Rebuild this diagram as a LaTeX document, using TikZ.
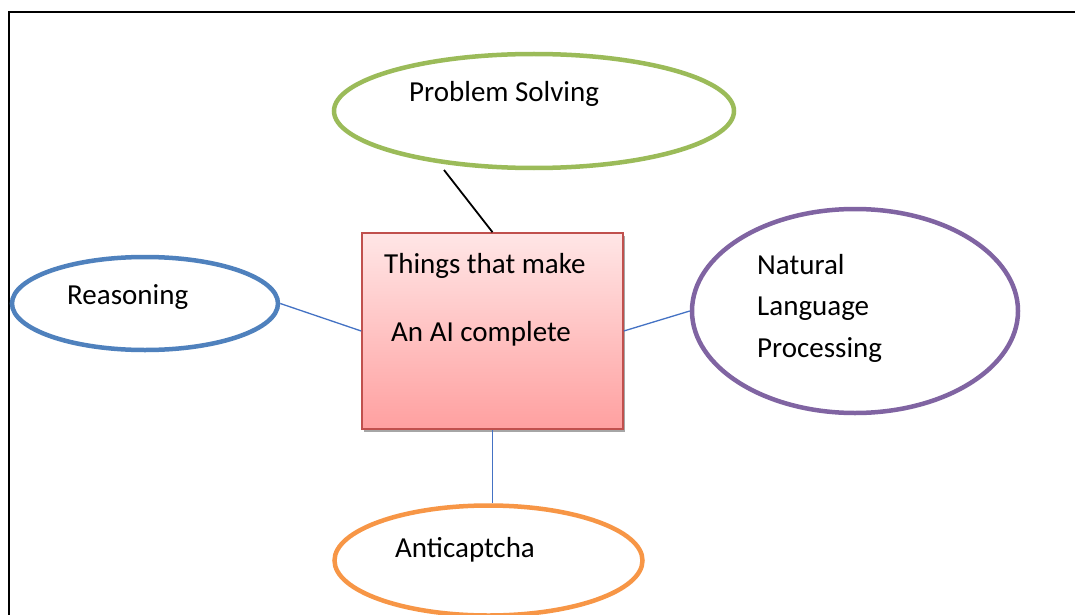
\documentclass[tikz,border=0pt]{standalone}
\usepackage{fontspec}
\setmainfont{Carlito}
\usetikzlibrary{shapes.geometric}
\definecolor{psgreen}{RGB}{155,187,89}
\definecolor{rsblue}{RGB}{79,129,189}
\definecolor{nlppurple}{RGB}{128,100,162}
\definecolor{acorange}{RGB}{247,150,70}
\definecolor{boxred}{RGB}{192,80,77}
\definecolor{boxtop}{RGB}{255,230,230}
\definecolor{boxbot}{RGB}{255,160,160}
\definecolor{linkblue}{RGB}{68,114,196}
\tikzset{
  oval/.style={ellipse, line width=4.5pt, inner sep=0pt},
  lbl/.style={anchor=base west, inner sep=0pt, font=\fontsize{29}{35}\selectfont},
  link/.style={draw=linkblue, line width=1.3pt},
}
\begin{document}
\begin{tikzpicture}[x=1pt,y=-1pt]
\useasboundingbox (0,0) rectangle (1075,615);
\fill[white] (0,0) rectangle (1075,615);
% frame
\draw[line width=1.8pt] (9,640) -- (9,12) -- (1100,12);
% ellipses
\node[oval, draw=psgreen, minimum width=400pt, minimum height=114pt] (ps) at (534,111) {};
\node[oval, draw=rsblue, minimum width=266pt, minimum height=93pt] (rs) at (145,303.5) {};
\node[oval, draw=nlppurple, minimum width=326pt, minimum height=204pt] (nlp) at (855,311) {};
\node[oval, draw=acorange, minimum width=308pt, minimum height=110pt] (ac) at (488.5,560.5) {};
% central box shadow and box
\fill[gray!70] (364,236) rectangle (625,432);
\node[rectangle, draw=boxred, line width=1.6pt, top color=boxtop, bottom color=boxbot,
      minimum width=261pt, minimum height=196pt, inner sep=0pt] (box) at (492.5,331) {};
% texts
\node[lbl] (tps) at (409,101.5) {Problem Solving};
\node[lbl] (trs) at (67,304) {Reasoning};
\node[lbl] (tnlp1) at (757,274) {Natural};
\node[lbl] (tnlp2) at (757,315.5) {Language};
\node[lbl] (tnlp3) at (757,357) {Processing};
\node[lbl] (tbox1) at (384,273) {Things that make};
\node[lbl] (tbox2) at (391,341) {An AI complete};
\node[lbl] (tac) at (395,557) {Anticaptcha};
% connectors
\coordinate (pstail) at (444,170);
\draw[line width=1.8pt] (pstail) -- (box.north);
\draw[link] (rs.east) -- (box.west);
\draw[link] (box.east) -- (nlp.west);
\draw[link] (box.south) -- (box.south |- ac.north);
\end{tikzpicture}
\end{document}
